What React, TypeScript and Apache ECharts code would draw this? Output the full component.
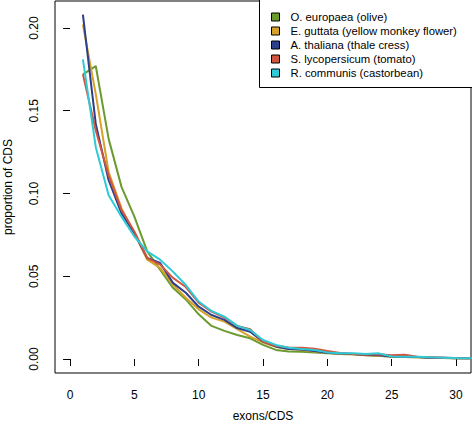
import React, { useEffect, useRef } from "react";
import * as echarts from "echarts";

const exons = [1,2,3,4,5,6,7,8,9,10,11,12,13,14,15,16,17,18,19,20,21,22,23,24,25,26,27,28,29,30,31,32];

const seriesNames = [
  "O. europaea (olive)",
  "E. guttata (yellow monkey flower)",
  "A. thaliana (thale cress)",
  "S. lycopersicum (tomato)",
  "R. communis (castorbean)",
];
const seriesColors = ["#6B9A2E", "#D6A22A", "#2C3E8C", "#D2553D", "#2ECAD6"];

const olive = [0.172,0.177,0.133,0.104,0.086,0.065,0.054,0.043,0.036,0.027,0.020,0.017,0.0145,0.0125,0.0085,0.0055,0.0045,0.0044,0.0040,0.0035,0.0030,0.0028,0.0022,0.0020,0.0013,0.0012,0.0010,0.0008,0.0006,0.0005,0.0004,0.0004];
const guttata = [0.202,0.160,0.113,0.091,0.076,0.060,0.055,0.045,0.037,0.030,0.025,0.0226,0.018,0.0135,0.010,0.0073,0.006,0.0055,0.0045,0.0038,0.0030,0.0028,0.0022,0.0020,0.0014,0.0012,0.0010,0.0008,0.0006,0.0005,0.0004,0.0004];
const thaliana = [0.208,0.142,0.108,0.088,0.076,0.061,0.058,0.046,0.040,0.0316,0.0266,0.0236,0.0187,0.0165,0.0105,0.0076,0.006,0.0058,0.0048,0.0038,0.0033,0.0030,0.0024,0.0022,0.0015,0.0014,0.0012,0.0008,0.0007,0.0005,0.0004,0.0004];
const tomato = [0.172,0.138,0.111,0.090,0.077,0.061,0.057,0.049,0.0435,0.034,0.0286,0.025,0.020,0.018,0.0105,0.008,0.007,0.0068,0.0062,0.0048,0.0036,0.0030,0.0026,0.0028,0.0022,0.0026,0.0014,0.0010,0.0008,0.0006,0.0005,0.0004];
const castorbean = [0.181,0.128,0.099,0.086,0.074,0.065,0.060,0.0528,0.0447,0.0347,0.029,0.0256,0.020,0.0175,0.0115,0.0085,0.0068,0.006,0.0054,0.0040,0.0035,0.0034,0.0030,0.0034,0.0015,0.0014,0.0013,0.0010,0.0008,0.0006,0.0005,0.0004];

const allValues = [olive, guttata, thaliana, tomato, castorbean];

const xTicks = [0, 5, 10, 15, 20, 25, 30];
const yTicks = [0, 0.05, 0.1, 0.15, 0.2];

const FONT = "Liberation Sans";

export default function App() {
  const ref = useRef<HTMLDivElement>(null);
  useEffect(() => {
    if (!ref.current) return;
    const chart = echarts.init(ref.current, null, { renderer: "svg" });
    const series = allValues.map((vals, i) => ({
      name: seriesNames[i],
      type: "line",
      data: vals.map((v, j) => [exons[j], v]),
      showSymbol: false,
      symbol: "none",
      lineStyle: { width: 2, color: seriesColors[i] },
      itemStyle: { color: seriesColors[i] },
      clip: true,
    }));
    chart.setOption({
      animation: false,
      backgroundColor: "#ffffff",
      textStyle: { fontFamily: FONT },
      grid: {
        left: 55,
        right: 1,
        top: 1,
        bottom: 55,
        containLabel: false,
        outerBoundsMode: "none",
        show: true,
        borderColor: "#000",
        borderWidth: 1,
        backgroundColor: "transparent",
      },
      xAxis: {
        type: "value",
        min: -1.17,
        max: 31.17,
        name: "exons/CDS",
        nameLocation: "middle",
        nameGap: 37,
        nameTextStyle: { fontFamily: FONT, fontSize: 12, color: "#000" },
        splitLine: { show: false },
        axisLine: { show: false },
        axisTick: { show: true, length: 7, lineStyle: { color: "#000" }, customValues: xTicks },
        axisLabel: { fontFamily: FONT, fontSize: 12, color: "#000", margin: 16, customValues: xTicks },
      },
      yAxis: {
        type: "value",
        min: -0.00846,
        max: 0.2163,
        name: "proportion of CDS",
        nameLocation: "middle",
        nameGap: 41,
        nameTextStyle: { fontFamily: FONT, fontSize: 12, color: "#000" },
        splitLine: { show: false },
        axisLine: { show: false },
        axisTick: { show: true, length: 7, lineStyle: { color: "#000" }, customValues: yTicks },
        axisLabel: {
          fontFamily: FONT,
          fontSize: 12,
          color: "#000",
          margin: 15,
          rotate: 90,
          customValues: yTicks,
          formatter: (v: number) => v.toFixed(2),
        },
      },
      legend: {
        orient: "vertical",
        left: 271,
        top: 10,
        padding: 0,
        itemGap: 0,
        itemWidth: 8,
        itemHeight: 8,
        icon: "rect",
        itemStyle: { borderColor: "#000", borderWidth: 1 },
        textStyle: { fontFamily: FONT, fontSize: 11.3, color: "#000", lineHeight: 14, padding: [0, 0, 0, 6] },
        data: seriesNames,
      },
      graphic: [
        {
          type: "rect",
          shape: { x: 259.5, y: -2, width: 214, height: 89.5 },
          style: { fill: "#fff", stroke: "#000", lineWidth: 1 },
          z: 0,
          zlevel: 0,
        },
      ],
      series,
    });
    return () => chart.dispose();
  }, []);
  return (
    <div
      ref={ref}
      style={{ position: "fixed", left: 0, top: 0, width: 472, height: 428 }}
    />
  );
}
